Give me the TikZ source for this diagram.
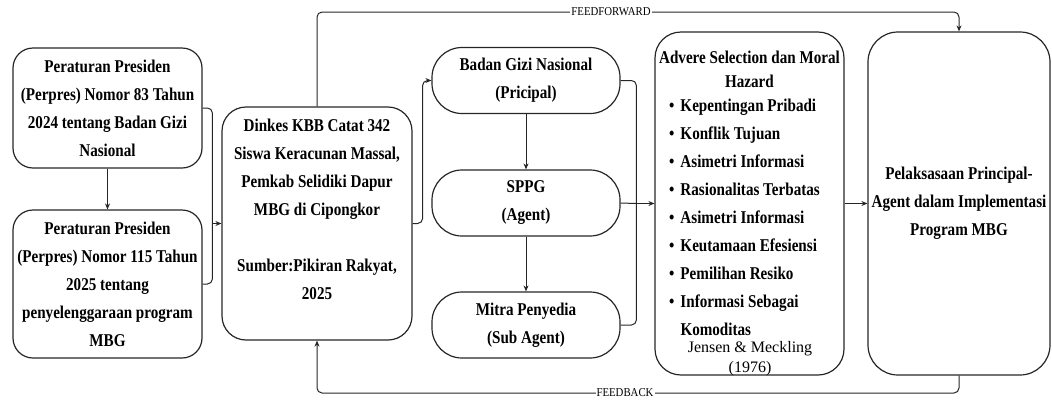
\documentclass[tikz,border=0pt]{standalone}
\usepackage{fontspec}
\setmainfont{Liberation Serif}
\newfontfamily\boxfont[FakeStretch=0.84]{Liberation Serif Bold}
\newfontfamily\flowfont[FakeStretch=0.9]{Liberation Serif}
\usepackage{tikz}
\usetikzlibrary{arrows.meta,calc}

\tikzset{
	box/.style={draw=black!85, line width=1.2pt, rounded corners=20pt, align=center, inner sep=0pt, font=\boxfont\fontsize{18}{28}\selectfont},
	pill/.style={box, rounded corners=30pt, minimum width=188pt, minimum height=66pt},
	conn/.style={draw=black!85, line width=1pt, rounded corners=5pt},
	arrow/.style={conn, -{Stealth[length=6pt,width=5pt]}},
	flowlabel/.style={fill=white, inner xsep=1pt, inner ysep=1pt, font=\flowfont\fontsize{12}{14}\selectfont},
}

\begin{document}
\begin{tikzpicture}[x=1pt, y=-1pt]
		%%%%% START %%%%%
		\useasboundingbox (0, 0) rectangle (1052, 400);
		
		% regulations
		\node[box, minimum width=189pt, minimum height=120pt] (perpresGizi) at (107.5, 108)
			{Peraturan Presiden\\(Perpres) Nomor 83 Tahun\\2024 tentang Badan Gizi\\Nasional};
		\node[box, minimum width=189pt, minimum height=148pt] (perpresMbg) at (107.5, 284)
			{Peraturan Presiden\\(Perpres) Nomor 115 Tahun\\2025 tentang\\penyelenggaraan program\\MBG};
		
		% case
		\node[box, rounded corners=24pt, minimum width=190pt, minimum height=233pt] (dinkes) at (317, 223.5)
			{Dinkes KBB Catat 342\\Siswa Keracunan Massal,\\Pemkab Selidiki Dapur\\MBG di Cipongkor\\\mbox{}\\Sumber:Pikiran Rakyat,\\2025\\\mbox{}};
		
		% actors
		\node[pill] (bgn) at (526, 80.5) {Badan Gizi Nasional\\(Pricipal)};
		\node[pill] (sppg) at (526, 203) {SPPG\\(Agent)};
		\node[pill] (mitra) at (526, 325) {Mitra Penyedia\\(Sub Agent)};
		
		% problems
		\node[box, rounded corners=26pt, minimum width=189pt, minimum height=343pt] (adverse) at (749.5, 203.5) {};
		\node[align=center, inner sep=0pt, font=\boxfont\fontsize{18}{24}\selectfont] (advHead) at (749.5, 69)
			{Advere Selection dan Moral\\Hazard};
		\node[align=left, inner sep=0pt, anchor=west, font=\boxfont\fontsize{18}{28}\selectfont] (advList) at (669, 217)
			{\textbullet\hspace{6pt}Kepentingan Pribadi\\
			 \textbullet\hspace{6pt}Konflik Tujuan\\
			 \textbullet\hspace{6pt}Asimetri Informasi\\
			 \textbullet\hspace{6pt}Rasionalitas Terbatas\\
			 \textbullet\hspace{6pt}Asimetri Informasi\\
			 \textbullet\hspace{6pt}Keutamaan Efesiensi\\
			 \textbullet\hspace{6pt}Pemilihan Resiko\\
			 \textbullet\hspace{6pt}Informasi Sebagai\\
			 \phantom{\textbullet}\hspace{6pt}Komoditas};
		\node[align=center, inner sep=0pt, font=\fontsize{16}{20}\selectfont] (advRef) at (750, 359)
			{Jensen \& Meckling\\(1976)};
		
		% outcome
		\node[box, rounded corners=30pt, minimum width=182pt, minimum height=343pt] (pelaksanaan) at (959, 203.5)
			{Pelaksasaan Principal-\\Agent dalam Implementasi\\Program MBG};
		
		% connectors
		\coordinate (mergeL) at ([xshift=-9pt]dinkes.west);
		\coordinate (splitM) at ([xshift=10pt]dinkes.east);
		\coordinate (mergeR) at ([xshift=-18pt]adverse.west);
		\coordinate (ffLevel) at (0, 12);
		\coordinate (fbLevel) at (0, 393);
		
		\draw[arrow] (perpresGizi) -- (perpresMbg);
		\draw[conn] (perpresGizi.east) -| (mergeL);
		\draw[conn] (perpresMbg.east) -| (mergeL);
		\draw[arrow] (mergeL) -- (dinkes.west);
		
		\draw[arrow] (dinkes.east) -- (splitM) |- (bgn.west);
		\draw[arrow] (bgn) -- (sppg);
		\draw[arrow] (sppg) -- (mitra);
		
		\draw[conn] (bgn.east) -| (mergeR);
		\draw[conn] (mitra.east) -| (mergeR);
		\draw[conn] (sppg.east) -- (mergeR);
		\draw[arrow] (mergeR) -- (adverse.west);
		\draw[arrow] (adverse.east) -- (pelaksanaan.west);
		
		\draw[arrow] (dinkes.north) -- (dinkes.north |- ffLevel) -- (pelaksanaan.north |- ffLevel) -- (pelaksanaan.north);
		\node[flowlabel] (ffLabel) at (611, 12) {FEEDFORWARD};
		\draw[arrow] (pelaksanaan.south) -- (pelaksanaan.south |- fbLevel) -- (dinkes.south |- fbLevel) -- (dinkes.south);
		\node[flowlabel] (fbLabel) at (625, 393) {FEEDBACK};
		
		%%%%% END %%%%%
\end{tikzpicture}
\end{document}
